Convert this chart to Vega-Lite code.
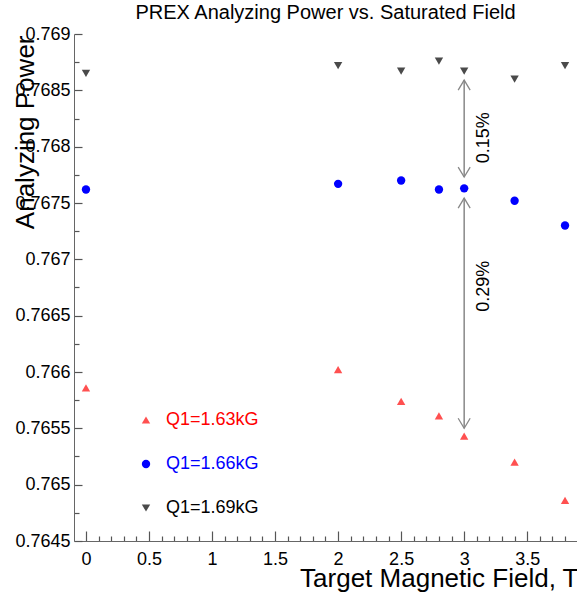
{
  "$schema": "https://vega.github.io/schema/vega-lite/v6.json",
  "width": 503,
  "height": 507,
  "autosize": {"type": "none"},
  "padding": {"left": 74, "top": 34, "right": 0, "bottom": 53},
  "background": "white",
  "title": {"text": "PREX Analyzing Power vs. Saturated Field", "fontSize": 20, "font": "Liberation Sans", "fontWeight": "normal", "color": "#000000", "anchor": "middle", "offset": 14, "baseline": "alphabetic", "dy": 28},
  "config": {"view": {"stroke": null}, "font": "Liberation Sans"},
  "datasets": {
    "points": [
      {"field_T": 0, "power": 0.76586, "series": "Q1=1.63kG"},
      {"field_T": 2, "power": 0.76602, "series": "Q1=1.63kG"},
      {"field_T": 2.5, "power": 0.76574, "series": "Q1=1.63kG"},
      {"field_T": 2.8, "power": 0.76561, "series": "Q1=1.63kG"},
      {"field_T": 3.0, "power": 0.76543, "series": "Q1=1.63kG"},
      {"field_T": 3.4, "power": 0.76520, "series": "Q1=1.63kG"},
      {"field_T": 3.8, "power": 0.76486, "series": "Q1=1.63kG"},
      {"field_T": 0, "power": 0.76762, "series": "Q1=1.66kG"},
      {"field_T": 2, "power": 0.76767, "series": "Q1=1.66kG"},
      {"field_T": 2.5, "power": 0.76770, "series": "Q1=1.66kG"},
      {"field_T": 2.8, "power": 0.76762, "series": "Q1=1.66kG"},
      {"field_T": 3.0, "power": 0.76763, "series": "Q1=1.66kG"},
      {"field_T": 3.4, "power": 0.76752, "series": "Q1=1.66kG"},
      {"field_T": 3.8, "power": 0.76730, "series": "Q1=1.66kG"},
      {"field_T": 0, "power": 0.76865, "series": "Q1=1.69kG"},
      {"field_T": 2, "power": 0.76872, "series": "Q1=1.69kG"},
      {"field_T": 2.5, "power": 0.76867, "series": "Q1=1.69kG"},
      {"field_T": 2.8, "power": 0.76876, "series": "Q1=1.69kG"},
      {"field_T": 3.0, "power": 0.76867, "series": "Q1=1.69kG"},
      {"field_T": 3.4, "power": 0.76860, "series": "Q1=1.69kG"},
      {"field_T": 3.8, "power": 0.76872, "series": "Q1=1.69kG"}
    ],
    "arrows": [
      {"field_T": 3.0, "top": 0.768591, "bottom": 0.76773, "label_y": 0.76808, "label": "0.15%"},
      {"field_T": 3.0, "top": 0.767544, "bottom": 0.765501, "label_y": 0.766762, "label": "0.29%"}
    ]
  },
  "layer": [
    {
      "mark": {"type": "rule", "color": "#666666", "strokeWidth": 1},
      "encoding": {"y": {"datum": 0.769, "type": "quantitative"}}
    },
    {
      "data": {"name": "points"},
      "mark": {"type": "point", "filled": true, "size": 70, "opacity": 1},
      "encoding": {
        "x": {
          "field": "field_T", "type": "quantitative",
          "scale": {"domain": [-0.095, 3.895], "nice": false, "zero": false},
          "axis": {
            "title": "Target Magnetic Field, T",
            "titleX": 504, "titleY": 37, "titleAlign": "right", "titleBaseline": "middle", "titleAnchor": null,
            "titleFontSize": 26, "titleFontWeight": "normal", "titleColor": "#000000",
            "values": [0,0.1,0.2,0.3,0.4,0.5,0.6,0.7,0.8,0.9,1,1.1,1.2,1.3,1.4,1.5,1.6,1.7,1.8,1.9,2,2.1,2.2,2.3,2.4,2.5,2.6,2.7,2.8,2.9,3,3.1,3.2,3.3,3.4,3.5,3.6,3.7,3.8],
            "tickCount": 200,
            "labelExpr": "abs(datum.value*2 - round(datum.value*2)) < 0.001 ? format(datum.value, '~g') : ''",
            "tickSize": {"condition": {"test": "abs(datum.value*2 - round(datum.value*2)) < 0.001", "value": -10}, "value": -5},
            "tickWidth": 1.2,
            "labelFontSize": 18, "labelColor": "#000000", "labelPadding": 19,
            "labelFlush": false, "labelOverlap": false, "labelBound": false,
            "domainColor": "#666666", "tickColor": "#555555", "grid": false
          }
        },
        "y": {
          "field": "power", "type": "quantitative",
          "scale": {"domain": [0.7645, 0.769], "nice": false, "zero": false},
          "axis": {
            "title": "Analyzing Power",
            "titleAngle": 270, "titleX": -49, "titleY": 1, "titleAlign": "right", "titleBaseline": "middle",
            "titleFontSize": 26, "titleFontWeight": "normal", "titleColor": "#000000",
            "values": [0.7645,0.76475,0.765,0.76525,0.7655,0.76575,0.766,0.76625,0.7665,0.76675,0.767,0.76725,0.7675,0.76775,0.768,0.76825,0.7685,0.76875,0.769],
            "tickCount": 200,
            "labelExpr": "abs(datum.value*2000 - round(datum.value*2000)) < 0.01 ? format(datum.value, '~g') : ''",
            "tickSize": {"condition": {"test": "abs(datum.value*2000 - round(datum.value*2000)) < 0.01", "value": -8}, "value": -5},
            "tickWidth": 1.2,
            "labelFontSize": 18, "labelColor": "#000000", "labelPadding": 12,
            "labelFlush": false, "labelOverlap": false, "labelBound": false,
            "domainColor": "#666666", "tickColor": "#555555", "grid": false
          }
        },
        "color": {
          "field": "series", "type": "nominal",
          "scale": {"domain": ["Q1=1.63kG", "Q1=1.66kG", "Q1=1.69kG"], "range": ["#ff5050", "#0000ff", "#4a4a4a"]},
          "legend": {
            "title": null, "orient": "none", "legendX": 63, "legendY": 377, "direction": "vertical",
            "labelFontSize": 18, "symbolSize": 70, "rowPadding": 26, "labelOffset": 11, "padding": 0,
            "symbolStrokeWidth": 0,
            "labelColor": {"expr": "datum.value === 'Q1=1.63kG' ? '#ff0000' : datum.value === 'Q1=1.66kG' ? '#0000ff' : '#000000'"}
          }
        },
        "shape": {
          "field": "series", "type": "nominal",
          "scale": {"domain": ["Q1=1.63kG", "Q1=1.66kG", "Q1=1.69kG"], "range": ["triangle-up", "circle", "triangle-down"]},
          "legend": {
            "title": null, "orient": "none", "legendX": 63, "legendY": 377, "direction": "vertical",
            "labelFontSize": 18, "symbolSize": 70, "rowPadding": 26, "labelOffset": 11, "padding": 0,
            "symbolStrokeWidth": 0,
            "labelColor": {"expr": "datum.value === 'Q1=1.63kG' ? '#ff0000' : datum.value === 'Q1=1.66kG' ? '#0000ff' : '#000000'"}
          }
        }
      }
    },
    {
      "data": {"name": "arrows"},
      "mark": {"type": "rule", "color": "#888888", "strokeWidth": 1.5},
      "encoding": {
        "x": {"field": "field_T", "type": "quantitative"},
        "y": {"field": "top", "type": "quantitative"},
        "y2": {"field": "bottom"}
      }
    },
    {
      "data": {"name": "arrows"},
      "mark": {"type": "point", "shape": "M-0.6,1L0,0L0.6,1", "filled": false, "size": 400, "stroke": "#888888", "strokeWidth": 1.3, "opacity": 1},
      "encoding": {
        "x": {"field": "field_T", "type": "quantitative"},
        "y": {"field": "top", "type": "quantitative"}
      }
    },
    {
      "data": {"name": "arrows"},
      "mark": {"type": "point", "shape": "M-0.6,-1L0,0L0.6,-1", "filled": false, "size": 400, "stroke": "#888888", "strokeWidth": 1.3, "opacity": 1},
      "encoding": {
        "x": {"field": "field_T", "type": "quantitative"},
        "y": {"field": "bottom", "type": "quantitative"}
      }
    },
    {
      "data": {"name": "arrows"},
      "mark": {"type": "text", "angle": 270, "fontSize": 18, "font": "Liberation Sans", "color": "#000000", "align": "center", "baseline": "middle", "dy": 20},
      "encoding": {
        "x": {"field": "field_T", "type": "quantitative"},
        "y": {"field": "label_y", "type": "quantitative"},
        "text": {"field": "label"}
      }
    }
  ]
}
